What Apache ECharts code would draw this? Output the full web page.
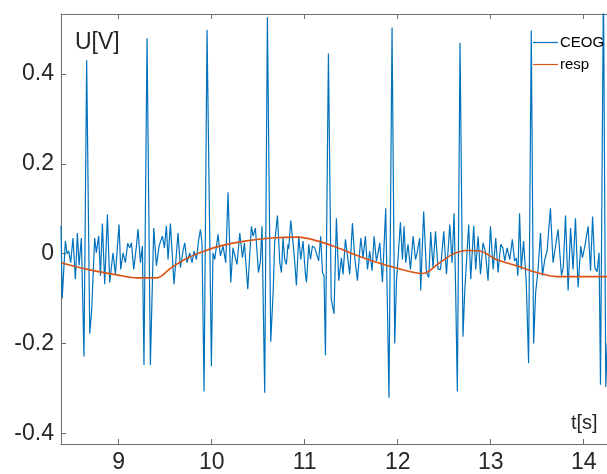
<!DOCTYPE html>
<html>
<head>
<meta charset="utf-8">
<script src="https://cdn.jsdelivr.net/npm/echarts@6/dist/echarts.min.js"></script>
<style>html,body{margin:0;padding:0;background:#fff;}#c{width:607px;height:474px;}</style>
</head>
<body>
<div id="c"></div>
<script>
const ecgTime = [8.380,8.393,8.427,8.445,8.463,8.484,8.509,8.535,8.556,8.574,8.599,8.627,8.656,8.689,8.710,8.742,8.760,8.785,8.804,8.825,8.850,8.879,8.904,8.939,8.965,9.004,9.022,9.047,9.072,9.097,9.119,9.137,9.162,9.191,9.208,9.234,9.255,9.272,9.305,9.341,9.377,9.406,9.434,9.470,9.492,9.513,9.531,9.556,9.595,9.638,9.664,9.692,9.710,9.735,9.764,9.789,9.810,9.836,9.861,9.879,9.896,9.918,9.950,9.997,10.014,10.033,10.068,10.094,10.122,10.151,10.176,10.205,10.229,10.248,10.272,10.302,10.331,10.352,10.388,10.427,10.445,10.470,10.503,10.524,10.541,10.570,10.599,10.635,10.662,10.677,10.707,10.732,10.750,10.767,10.785,10.803,10.821,10.828,10.850,10.875,10.893,10.911,10.936,10.958,10.982,11.008,11.019,11.044,11.062,11.083,11.108,11.129,11.150,11.172,11.191,11.208,11.223,11.255,11.285,11.315,11.341,11.366,11.395,11.412,11.438,11.455,11.484,11.513,11.538,11.567,11.603,11.627,11.653,11.675,11.699,11.724,11.746,11.771,11.789,11.807,11.836,11.871,11.906,11.939,11.968,11.986,12.029,12.051,12.068,12.086,12.111,12.137,12.165,12.191,12.207,12.236,12.247,12.279,12.309,12.334,12.355,12.380,12.406,12.434,12.460,12.495,12.524,12.560,12.584,12.606,12.622,12.641,12.670,12.702,12.720,12.763,12.785,12.817,12.838,12.864,12.890,12.917,12.943,12.971,12.997,13.026,13.054,13.079,13.108,13.130,13.151,13.176,13.205,13.232,13.256,13.275,13.292,13.310,13.328,13.353,13.382,13.407,13.436,13.461,13.483,13.509,13.535,13.556,13.581,13.606,13.642,13.670,13.688,13.724,13.761,13.780,13.804,13.832,13.858,13.885,13.911,13.939,13.968,13.986,14.012,14.047,14.073,14.095,14.119,14.143,14.165,14.180,14.212,14.237,14.253];
const ecgValue = [0.062,-0.100,0.028,0.000,0.006,-0.020,0.035,-0.057,0.046,-0.026,0.035,-0.229,0.431,-0.178,-0.125,0.035,0.002,0.040,-0.049,0.067,-0.068,0.087,-0.064,0.002,-0.046,0.065,-0.035,0.002,-0.020,0.023,0.013,0.024,-0.035,0.017,0.055,-0.020,0.017,-0.248,0.480,-0.248,0.057,-0.027,0.017,0.039,0.013,0.062,-0.013,0.067,-0.068,0.046,-0.031,0.006,0.024,-0.020,0.002,-0.020,0.006,-0.013,0.032,0.054,0.024,-0.307,0.499,-0.251,0.002,-0.013,0.043,-0.005,0.017,-0.020,0.137,-0.064,0.013,0.013,-0.024,0.046,-0.009,0.024,-0.079,0.061,0.039,0.057,-0.042,-0.016,0.061,-0.310,0.527,-0.196,-0.080,0.024,0.085,-0.020,-0.042,0.035,-0.013,-0.024,0.021,0.011,0.074,0.024,-0.020,-0.071,0.039,-0.013,0.028,-0.046,-0.064,0.021,-0.013,0.017,0.013,0.017,-0.016,0.039,-0.042,-0.049,-0.226,0.446,-0.100,-0.134,0.079,-0.060,-0.009,-0.046,0.032,0.030,-0.046,0.068,-0.009,-0.060,0.035,-0.009,0.039,-0.035,0.006,-0.038,0.039,-0.016,0.002,0.024,-0.064,0.101,-0.321,0.504,-0.200,-0.064,0.070,-0.013,0.061,-0.020,0.021,-0.035,0.039,-0.013,0.000,0.035,-0.082,0.094,-0.042,-0.053,0.048,-0.031,0.050,-0.035,-0.035,0.050,-0.046,0.065,-0.020,0.090,-0.071,-0.307,0.470,-0.185,-0.086,0.065,-0.057,0.062,-0.035,0.039,-0.046,0.024,0.004,-0.060,0.061,-0.035,0.035,-0.042,0.021,0.013,-0.016,0.013,-0.013,0.032,-0.016,-0.010,-0.049,0.090,-0.035,0.028,-0.064,-0.244,0.497,-0.200,-0.086,-0.035,0.046,-0.049,-0.013,0.006,0.101,-0.020,-0.017,0.054,-0.049,-0.030,0.085,-0.082,0.057,-0.035,0.079,-0.075,0.017,-0.009,0.017,0.061,-0.038,0.083,-0.031,-0.040,0.002,-0.292,0.600,-0.297,-0.200];
const respTime = [8.380,8.667,9.029,9.191,9.406,9.567,9.746,9.925,10.105,10.355,10.642,10.928,11.143,11.305,11.627,11.986,12.272,12.452,12.595,12.739,12.882,13.062,13.277,13.492,13.707,14.253];
const respValue = [-0.020,-0.035,-0.049,-0.054,-0.054,-0.031,-0.009,0.006,0.018,0.028,0.035,0.037,0.028,0.017,-0.009,-0.032,-0.044,-0.020,-0.001,0.007,0.006,-0.013,-0.027,-0.042,-0.051,-0.051];
const xTicks = [9,10,11,12,13,14];
const yTicks = [-0.4,-0.2,0,0.2,0.4];
const seriesNames = ['CEOG','resp'];

const ecgData = ecgTime.map((t,i)=>[t, ecgValue[i]]);
const respData = respTime.map((t,i)=>[t, respValue[i]]);

const axisColor = '#6e6e6e';
const chart = echarts.init(document.getElementById('c'), null, {renderer:'canvas'});
chart.setOption({
  animation: false,
  backgroundColor: '#fff',
  grid: {left: 61, top: 14, right: 0, height: 434, containLabel: false},
  xAxis: [{
    type: 'value', min: 8.38, max: 14.25, position: 'bottom',
    axisLine: {show: true, onZero: false, lineStyle: {color: axisColor, width: 1}},
    axisTick: {show: true, inside: true, length: 5, customValues: xTicks, lineStyle: {color: axisColor}},
    axisLabel: {show: true, customValues: xTicks, margin: 7, fontSize: 23, color: '#262626', fontFamily: 'Liberation Sans'},
    splitLine: {show: false}
  },{
    type: 'value', min: 8.38, max: 14.25, position: 'top',
    axisLine: {show: true, onZero: false, lineStyle: {color: axisColor, width: 1}},
    axisTick: {show: true, inside: true, length: 5, customValues: xTicks, lineStyle: {color: axisColor}},
    axisLabel: {show: false},
    splitLine: {show: false}
  }],
  yAxis: {
    type: 'value', min: -0.424, max: 0.534,
    axisLine: {show: true, onZero: false, lineStyle: {color: axisColor, width: 1}},
    axisTick: {show: true, inside: true, length: 5, customValues: yTicks, lineStyle: {color: axisColor}},
    axisLabel: {show: true, customValues: yTicks, margin: 7, fontSize: 23, color: '#262626', fontFamily: 'Liberation Sans'},
    splitLine: {show: false}
  },
  legend: {
    orient: 'vertical', left: 533, top: 35, itemGap: 7, itemWidth: 25, itemHeight: 1.2,
    icon: 'rect', padding: 0,
    textStyle: {fontSize: 15, color: '#000', fontFamily: 'Liberation Sans', padding: [0,0,0,-3]},
    data: seriesNames
  },
  graphic: [
    {type: 'text', left: 75, top: 31, style: {text: 'U[V]', fontSize: 23, fill: '#262626', fontFamily: 'Liberation Sans'}},
    {type: 'text', left: 571, top: 413, style: {text: 't[s]', fontSize: 20, fill: '#262626', fontFamily: 'Liberation Sans'}}
  ],
  series: [
    {name: seriesNames[0], type: 'line', data: ecgData, showSymbol: false, symbol: 'none',
     lineStyle: {color: '#0072BD', width: 1.2}, itemStyle: {color: '#0072BD'}, clip: true, z: 2},
    {name: seriesNames[1], type: 'line', data: respData, showSymbol: false, symbol: 'none', smooth: 0.35,
     lineStyle: {color: '#D95319', width: 1.6}, itemStyle: {color: '#D95319'}, clip: true, z: 3}
  ]
});
</script>
</body>
</html>
